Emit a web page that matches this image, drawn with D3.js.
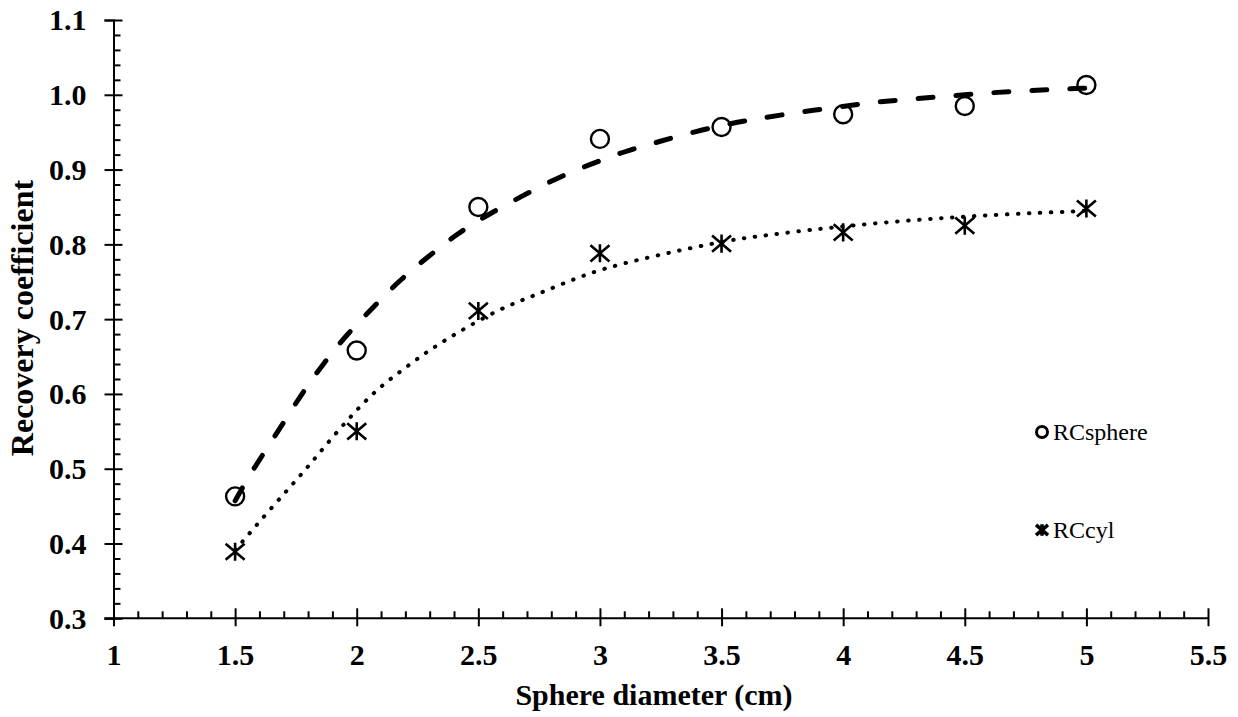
<!DOCTYPE html>
<html>
<head>
<meta charset="utf-8">
<script src="https://cdn.jsdelivr.net/npm/d3@7"></script>
<style>
    html, body { margin: 0; padding: 0; background: #fff; }
    #chart { width: 1238px; height: 717px; }
    text { font-family: "Liberation Serif", "Times New Roman", serif; fill: #000; }
</style>
</head>
<body>
<div id="chart"></div>
<script>
// Measured points
const diameters = [1.5, 2, 2.5, 3, 3.5, 4, 4.5, 5]
const rcSphere = [0.463, 0.658, 0.850, 0.941, 0.957, 0.974, 0.985, 1.013]
const rcCyl = [0.389, 0.550, 0.711, 0.788, 0.801, 0.816, 0.825, 0.848]

// Fitted curves
const sphereFitX = [1.5, 1.563, 1.693, 1.775, 1.864, 1.960, 2.069, 2.172, 2.295, 2.412, 2.542, 2.809, 2.953, 3.097, 3.240, 3.391, 3.542, 3.658, 3.823, 4.0, 4.151, 4.302, 4.452, 4.603, 4.760, 4.911, 5.0]
const sphereFitY = [0.457, 0.494, 0.558, 0.601, 0.641, 0.680, 0.716, 0.751, 0.784, 0.814, 0.8406, 0.8872, 0.906, 0.924, 0.937, 0.951, 0.962, 0.9685, 0.977, 0.9846, 0.991, 0.9947, 0.9988, 1.0028, 1.0054, 1.0077, 1.009]
const cylFitX = [1.501, 1.652, 1.789, 1.919, 2.069, 2.179, 2.289, 2.398, 2.590, 2.727, 2.864, 3.014, 3.193, 3.364, 3.542, 3.631, 3.850, 4.165, 4.480, 4.781, 4.932, 5.0]
const cylFitY = [0.3915, 0.449, 0.498, 0.550, 0.603, 0.630, 0.6565, 0.679, 0.7145, 0.731, 0.750, 0.768, 0.782, 0.7947, 0.806, 0.810, 0.819, 0.8295, 0.837, 0.842, 0.8437, 0.845]

// Axis ticks
const xMajorTicks = [1, 1.5, 2, 2.5, 3, 3.5, 4, 4.5, 5, 5.5]
const yMajorTicks = [0.3, 0.4, 0.5, 0.6, 0.7, 0.8, 0.9, 1.0, 1.1]
const seriesNames = ['RCsphere', 'RCcyl']

document.addEventListener('DOMContentLoaded', () => {
    const viewW = 1238
    const viewH = 717
    const plotLeft = 113.5
    const plotRight = 1208
    const plotTop = 20
    const plotBottom = 618.3

    const svg = d3.select('#chart')
        .append('svg')
        .attr('width', viewW)
        .attr('height', viewH)
        .attr('viewBox', [0, 0, viewW, viewH])

    const x = d3.scaleLinear().domain([1, 5.5]).range([plotLeft, plotRight])
    const y = d3.scaleLinear().domain([0.3, 1.1]).range([plotBottom, plotTop])

    const xMinor = d3.range(10, 56).map(d => d / 10).filter(d => !xMajorTicks.some(t => Math.abs(t - d) < 1e-9))
    const yMinor = d3.range(15, 56).map(d => d / 50).filter(d => !yMajorTicks.some(t => Math.abs(t - d) < 1e-9))

    // y-axis
    svg.append('g')
        .attr('transform', `translate(${plotLeft}, 0)`)
        .call(d3.axisRight(y).tickValues(yMinor).tickSize(7).tickSizeOuter(0).tickFormat(''))
        .call(g => g.select('.domain').remove())
        .call(g => g.selectAll('line').attr('stroke-width', 2))
    const yAxisG = svg.append('g')
        .attr('transform', `translate(${plotLeft}, 0)`)
        .call(d3.axisLeft(y).tickValues(yMajorTicks).tickSizeOuter(0).tickSize(9).tickPadding(18).tickFormat(d3.format('.1f')))
    yAxisG.select('.domain').attr('stroke-width', 2)
    yAxisG.selectAll('.tick line').attr('x1', -9).attr('x2', 9).attr('stroke-width', 2)
    yAxisG.selectAll('.tick text')
        .attr('font-family', '"Liberation Serif", "Times New Roman", serif')
        .attr('font-size', 30)
        .attr('font-weight', 'bold')
        .attr('dy', '0.33em')

    // x-axis
    svg.append('g')
        .attr('transform', `translate(0, ${plotBottom})`)
        .call(d3.axisTop(x).tickValues(xMinor).tickSize(7).tickSizeOuter(0).tickFormat(''))
        .call(g => g.select('.domain').remove())
        .call(g => g.selectAll('line').attr('stroke-width', 2))
    const xAxisG = svg.append('g')
        .attr('transform', `translate(0, ${plotBottom})`)
        .call(d3.axisBottom(x).tickValues(xMajorTicks).tickSizeOuter(0).tickSize(8).tickFormat(d3.format('')))
    xAxisG.select('.domain').attr('stroke-width', 2)
        .attr('d', `M${plotLeft - 9},0H${plotRight}`)
    xAxisG.selectAll('.tick line').attr('y1', -10).attr('y2', 8).attr('stroke-width', 2)
    xAxisG.selectAll('.tick text')
        .attr('font-family', '"Liberation Serif", "Times New Roman", serif')
        .attr('font-size', 30)
        .attr('font-weight', 'bold')
        .attr('y', 47)
        .attr('dy', 0)

    // Axis titles
    svg.append('text')
        .attr('x', 654)
        .attr('y', 705)
        .attr('text-anchor', 'middle')
        .attr('font-size', 30)
        .attr('font-weight', 'bold')
        .text('Sphere diameter (cm)')
    svg.append('text')
        .attr('transform', `translate(33, 318) rotate(-90)`)
        .attr('text-anchor', 'middle')
        .attr('font-size', 32)
        .attr('font-weight', 'bold')
        .text('Recovery coefficient')

    // Fit curves
    const line = d3.line()
        .x(d => x(d[0]))
        .y(d => y(d[1]))
        .curve(d3.curveBasis)
    svg.append('path')
        .datum(d3.zip(sphereFitX, sphereFitY))
        .attr('d', line)
        .attr('fill', 'none')
        .attr('stroke', '#000')
        .attr('stroke-width', 5)
        .attr('stroke-linecap', 'round')
        .attr('stroke-dasharray', '15 23')
    svg.append('path')
        .datum(d3.zip(cylFitX, cylFitY))
        .attr('d', line)
        .attr('fill', 'none')
        .attr('stroke', '#000')
        .attr('stroke-width', 4)
        .attr('stroke-linecap', 'round')
        .attr('stroke-dasharray', '0.5 10.5')

    // Markers
    const starPath = (s) => `M${-s},${-s * 0.85}L${s},${s * 0.85}M${-s},${s * 0.85}L${s},${-s * 0.85}M0,${-s * 0.95}L0,${s * 0.95}`
    svg.append('g')
        .selectAll('circle')
        .data(d3.zip(diameters, rcSphere))
        .enter()
        .append('circle')
        .attr('cx', d => x(d[0]))
        .attr('cy', d => y(d[1]))
        .attr('r', 9)
        .attr('fill', 'none')
        .attr('stroke', '#000')
        .attr('stroke-width', 2.4)
    svg.append('g')
        .selectAll('path')
        .data(d3.zip(diameters, rcCyl))
        .enter()
        .append('path')
        .attr('transform', d => `translate(${x(d[0])}, ${y(d[1])})`)
        .attr('d', starPath(9.5))
        .attr('fill', 'none')
        .attr('stroke', '#000')
        .attr('stroke-width', 2.6)

    // Legend
    const legend = svg.append('g').attr('transform', 'translate(1042, 432)')
    legend.append('circle')
        .attr('cx', 0).attr('cy', 0).attr('r', 5.5)
        .attr('fill', 'none').attr('stroke', '#000').attr('stroke-width', 3)
    legend.append('path')
        .attr('transform', 'translate(0, 98)')
        .attr('d', starPath(6))
        .attr('fill', 'none').attr('stroke', '#000').attr('stroke-width', 3.5)
    legend.selectAll('text.legend-label')
        .data(seriesNames)
        .enter()
        .append('text')
        .attr('class', 'legend-label')
        .attr('x', 11)
        .attr('y', (d, i) => i * 98 + 8)
        .attr('font-size', 24)
        .text(d => d)
})
</script>
</body>
</html>
